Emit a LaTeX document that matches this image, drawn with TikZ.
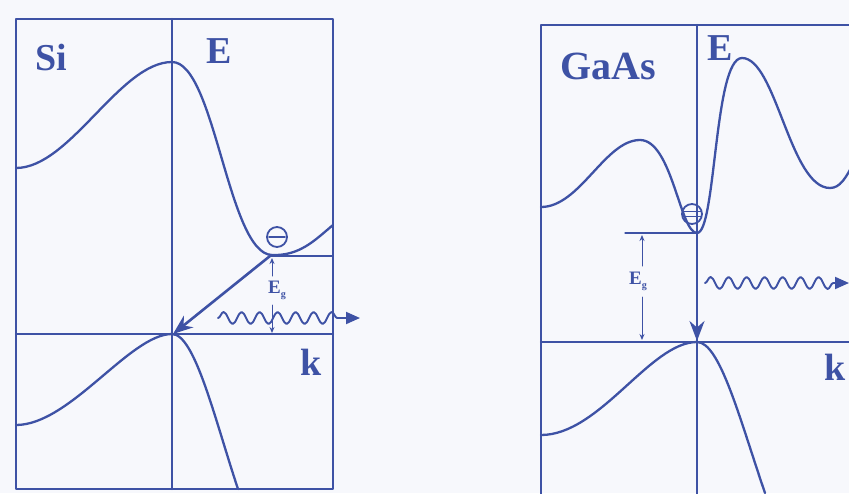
\documentclass[tikz,border=0pt]{standalone}
\usepackage{fontspec}
\setmainfont{Liberation Serif}
\usetikzlibrary{arrows.meta,decorations.pathmorphing}
\definecolor{bl}{RGB}{62,82,165}
\definecolor{paper}{RGB}{247,248,252}
\begin{document}
\begin{tikzpicture}[x=1pt,y=-1pt,line join=round,line cap=round,
  band/.style={draw=bl,line width=2.3pt},
  frame/.style={draw=bl,line width=2.1pt},
  lbl/.style={text=bl,font=\bfseries\fontsize{38}{38}\selectfont,inner sep=0pt},
  eglbl/.style={text=bl,font=\bfseries\fontsize{19}{19}\selectfont,inner sep=0pt},
  egarrow/.style={draw=bl,line width=1pt,-{Stealth[length=6pt,width=5pt]}},
  wave/.style={draw=bl,line width=1.9pt,decorate,decoration={snake,amplitude=6pt,segment length=18pt,post length=14pt},-{Triangle[length=14pt,width=12pt]}},
  trans/.style={draw=bl,line width=2.6pt,-{Stealth[length=20pt,width=15pt]}},
  electron/.style={circle,draw=bl,line width=1.8pt,minimum size=20pt,inner sep=0pt},
  thin/.style={draw=bl,line width=1.3pt}]
\fill[paper] (0,0) rectangle (849,493);
\useasboundingbox (0,0) rectangle (849,493);
\clip (0,0) rectangle (849,493);
% ---------- Si panel ----------
\draw[frame] (16,19) rectangle (333,489);
\draw[frame] (172,19) -- (172,489);
\draw[frame] (16,334) -- (333,334);
\draw[band] (16,168) .. controls (70,168) and (120,62) .. (172,62)
  .. controls (215,62) and (228,254) .. (272,255)
  .. controls (300,256) and (315,240) .. (333,225);
\draw[band] (16,425) .. controls (70,425) and (130,334) .. (172,334)
  .. controls (195,334) and (215,420) .. (238,489);
\coordinate (siCmin) at (270,256);
\coordinate (siVmax) at (173,334);
\coordinate (siR) at (333,256);
\draw[thin] (siCmin) -- (siR);
\node[electron] (siE) at (277,237) {};
\draw[bl,line width=1.8pt] ([xshift=3pt]siE.west) -- ([xshift=-3pt]siE.east);
\draw[trans] (siCmin) -- (siVmax);
\node[eglbl] (siEg) at (277,290) {E\raisebox{-4pt}{\fontsize{10}{10}\selectfont g}};
\coordinate (siEgTop) at (272,258);
\coordinate (siEgBot) at (272,333);
\draw[egarrow] (272,276) -- (siEgTop);
\draw[egarrow] (272,305) -- (siEgBot);
\coordinate (siW0) at (218,318);
\coordinate (siW1) at (360,318);
\draw[wave] (siW0) -- (siW1);
\node[lbl] (si) at (51,57) {Si};
\node[lbl] (siEax) at (219,51) {E};
\node[lbl] (sik) at (311,362) {k};
% ---------- GaAs panel ----------
\draw[frame] (860,25) -- (541,25) -- (541,500);
\draw[frame] (697,25) -- (697,500);
\draw[frame] (541,342) -- (860,342);
\draw[band] (541,207) .. controls (580,207) and (605,140) .. (640,140)
  .. controls (672,140) and (680,233) .. (697,233)
  .. controls (716,233) and (714,58) .. (742,58)
  .. controls (776,58) and (790,188) .. (830,188)
  .. controls (840,188) and (846,178) .. (854,162);
\draw[band] (541,435) .. controls (600,435) and (650,342) .. (697,342)
  .. controls (720,342) and (740,420) .. (765,493);
\coordinate (gaCmin) at (697,233);
\coordinate (gaVmax) at (697,341);
\coordinate (gaL) at (625,233);
\draw[thin] (gaL) -- (gaCmin);
\node[electron] (gaE) at (692,214) {};
\draw[bl,line width=1.5pt] ([xshift=2.5pt,yshift=-2.5pt]gaE.west) -- ([xshift=-2.5pt,yshift=-2.5pt]gaE.east);
\draw[bl,line width=1.5pt] ([xshift=2.5pt,yshift=2.5pt]gaE.west) -- ([xshift=-2.5pt,yshift=2.5pt]gaE.east);
\draw[trans] (gaCmin) -- (gaVmax);
\node[eglbl] (gaEg) at (638,281) {E\raisebox{-4pt}{\fontsize{10}{10}\selectfont g}};
\coordinate (gaEgTop) at (642,235);
\coordinate (gaEgBot) at (642,340);
\draw[egarrow] (642,266) -- (gaEgTop);
\draw[egarrow] (642,297) -- (gaEgBot);
\coordinate (gaW0) at (705,283);
\coordinate (gaW1) at (849,283);
\draw[wave] (gaW0) -- (gaW1);
\node[lbl,font=\bfseries\fontsize{40}{40}\selectfont] (ga) at (608,66) {GaAs};
\node[lbl] (gaEax) at (720,48) {E};
\node[lbl] (gak) at (835,367) {k};
\end{tikzpicture}
\end{document}
